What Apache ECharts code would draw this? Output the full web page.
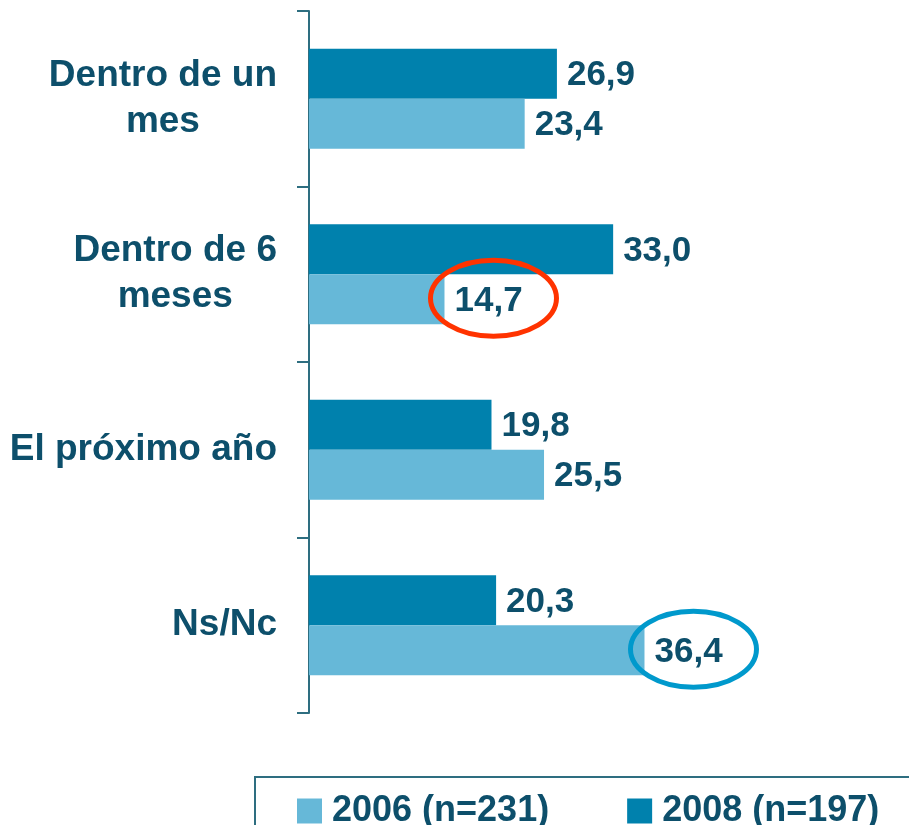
<!DOCTYPE html>
<html>
<head>
<meta charset="utf-8">
<script src="https://cdn.jsdelivr.net/npm/echarts@6/dist/echarts.min.js"></script>
<style>
  html, body { margin: 0; padding: 0; background: #fff; }
  #main { width: 909px; height: 825px; }
</style>
</head>
<body>
<div id="main"></div>
<script>
// datos
const categories = ['Dentro de un\nmes', 'Dentro de 6\nmeses', 'El próximo año', 'Ns/Nc'];
const values2008 = [26.9, 33.0, 19.8, 20.3];
const values2006 = [23.4, 14.7, 25.5, 36.4];
const seriesNames = ['2006 (n=231)', '2008 (n=197)'];
// valores resaltados con elipse: [indice categoria, color]
const highlights2006 = [[1, '#FF3300'], [3, '#0099CC']];

const textColor = '#0D4F6B';
const axisColor = '#2E6E80';
const font = "'Liberation Sans', Arial, sans-serif";

const chart = echarts.init(document.getElementById('main'));

const valueLabel = {
  show: true,
  position: 'right',
  distance: 10,
  offset: [0, 2],
  color: textColor,
  fontSize: 35,
  fontWeight: 'bold',
  fontFamily: font,
  formatter: (p) => p.value.toFixed(1).replace('.', ',')
};

let option = {
  backgroundColor: '#fff',
  animation: false,
  grid: { left: 309, right: 47, top: 11, bottom: 112, containLabel: false },
  legend: {
    data: seriesNames,
    left: 297,
    top: 793,
    orient: 'horizontal',
    padding: 0,
    itemWidth: 25,
    itemHeight: 25,
    itemGap: 78,
    icon: 'rect',
    textStyle: { color: textColor, fontSize: 36, fontWeight: 'bold', fontFamily: font, padding: [0, 0, 0, 5] }
  },
  xAxis: {
    type: 'value',
    min: 0,
    max: 60,
    show: false
  },
  yAxis: {
    type: 'category',
    data: categories,
    inverse: true,
    axisLine: { show: true, lineStyle: { color: axisColor, width: 2 } },
    axisTick: { show: true, length: 12, lineStyle: { color: axisColor, width: 2 } },
    axisLabel: {
      margin: 32,
      align: 'right',
      formatter: (v) => v.split('\n').map((s) => '{c|' + s + '}').join('\n'),
      rich: {
        c: {
          align: 'center',
          color: textColor,
          fontSize: 37,
          fontWeight: 'bold',
          fontFamily: font,
          lineHeight: 46
        }
      }
    },
    splitLine: { show: false }
  },
  series: [
    {
      name: seriesNames[1],
      type: 'bar',
      data: values2008,
      barWidth: 50,
      barGap: '0%',
      itemStyle: { color: '#0081AD' },
      label: valueLabel
    },
    {
      name: seriesNames[0],
      type: 'bar',
      data: values2006,
      barWidth: 50,
      barGap: '0%',
      itemStyle: { color: '#66B8D8' },
      label: valueLabel
    }
  ]
};

chart.setOption(option);

// marco de la leyenda y elipses alrededor de las etiquetas destacadas
const graphics = [{
  type: 'rect',
  shape: { x: 255, y: 777, width: 700, height: 100 },
  style: { fill: 'none', stroke: axisColor, lineWidth: 2 },
  z: 90
}];
highlights2006.forEach(([idx, color]) => {
  const p = chart.convertToPixel({ gridIndex: 0 }, [values2006[idx], idx]);
  graphics.push({
    type: 'ellipse',
    shape: { cx: p[0] + 49, cy: p[1] + 24, rx: 63, ry: 38 },
    style: { fill: 'none', stroke: color, lineWidth: 5 },
    z: 100
  });
});
chart.setOption({ graphic: graphics });
</script>
</body>
</html>
